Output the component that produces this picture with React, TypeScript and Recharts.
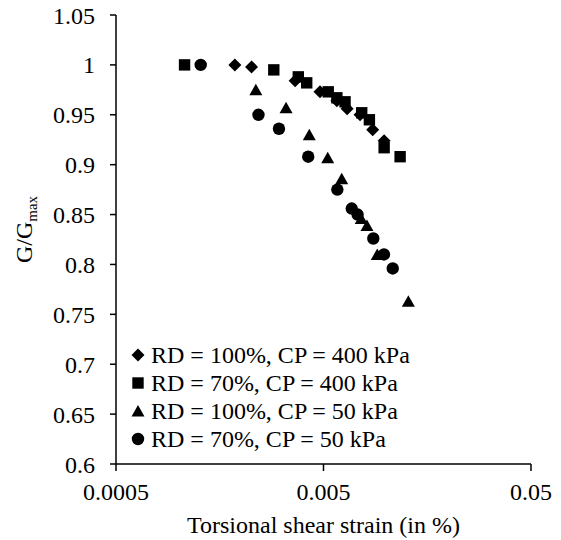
import { ScatterChart, Scatter, XAxis, YAxis, Legend, Label } from "recharts";

// strain (%) and G/Gmax
const rd100cp400X = [0.00187, 0.00225, 0.00365, 0.00481, 0.0058, 0.0065, 0.0075, 0.00863, 0.0098];
const rd100cp400Y = [1.0, 0.998, 0.984, 0.973, 0.964, 0.956, 0.95, 0.935, 0.924];

const rd70cp400X = [0.00107, 0.00288, 0.00378, 0.00415, 0.00527, 0.0058, 0.00635, 0.00764, 0.00832, 0.0098, 0.0117];
const rd70cp400Y = [1.0, 0.995, 0.988, 0.982, 0.973, 0.967, 0.963, 0.952, 0.945, 0.917, 0.908];

const rd100cp50X = [0.00236, 0.0033, 0.00427, 0.00524, 0.00612, 0.0076, 0.0081, 0.00908, 0.01282];
const rd100cp50Y = [0.975, 0.957, 0.93, 0.907, 0.886, 0.846, 0.839, 0.81, 0.763];

const rd70cp50X = [0.00128, 0.00243, 0.00305, 0.00422, 0.00583, 0.00684, 0.0073, 0.00869, 0.00978, 0.01078];
const rd70cp50Y = [1.0, 0.95, 0.936, 0.908, 0.875, 0.856, 0.85, 0.826, 0.81, 0.796];

const xTicks = [0.0005, 0.005, 0.05];
const yTicks = [0.6, 0.65, 0.7, 0.75, 0.8, 0.85, 0.9, 0.95, 1, 1.05];

const FONT = "Liberation Serif, DejaVu Serif, serif";
const FS = 24;

const toPoints = (xs: number[], ys: number[]) => xs.map((x, i) => ({ x, y: ys[i] }));

type Kind = "diamond" | "square" | "triangle" | "circle";

function markerPath(kind: Kind, cx: number, cy: number) {
  switch (kind) {
    case "diamond":
      return `M${cx},${cy - 6.5}L${cx + 6.5},${cy}L${cx},${cy + 6.5}L${cx - 6.5},${cy}Z`;
    case "square":
      return `M${cx - 5.7},${cy - 5.7}h11.4v11.4h-11.4Z`;
    case "triangle":
      return `M${cx},${cy - 6}L${cx + 6.5},${cy + 5.5}L${cx - 6.5},${cy + 5.5}Z`;
    default:
      return `M${cx - 6.2},${cy}a6.2,6.2 0 1,0 12.4,0a6.2,6.2 0 1,0 -12.4,0Z`;
  }
}

const makeShape = (kind: Kind) => (props: any) => (
  <path d={markerPath(kind, props.cx, props.cy)} fill="#000" />
);

const series: { name: string; kind: Kind; data: { x: number; y: number }[] }[] = [
  { name: "RD = 100%, CP = 400 kPa", kind: "diamond", data: toPoints(rd100cp400X, rd100cp400Y) },
  { name: "RD = 70%, CP = 400 kPa", kind: "square", data: toPoints(rd70cp400X, rd70cp400Y) },
  { name: "RD = 100%, CP = 50 kPa", kind: "triangle", data: toPoints(rd100cp50X, rd100cp50Y) },
  { name: "RD = 70%, CP = 50 kPa", kind: "circle", data: toPoints(rd70cp50X, rd70cp50Y) },
];

function LegendBox() {
  return (
    <div style={{ fontFamily: FONT, fontSize: FS, color: "#000" }}>
      {series.map((s) => (
        <div key={s.name} style={{ display: "flex", alignItems: "center", height: 28, lineHeight: "28px", whiteSpace: "nowrap" }}>
          <svg width={14} height={14} style={{ marginRight: 6 }}>
            <path d={markerPath(s.kind, 7, 7)} fill="#000" />
          </svg>
          <span>{s.name}</span>
        </div>
      ))}
    </div>
  );
}

function YTitle(props: any) {
  const vb = props.viewBox || {};
  const cx = 32;
  const cy = (vb.y ?? 15) + (vb.height ?? 449) / 2 - 10;
  return (
    <text
      x={cx}
      y={cy}
      transform={`rotate(-90, ${cx}, ${cy})`}
      textAnchor="middle"
      style={{ fontFamily: FONT, fontSize: FS, fill: "#000" }}
    >
      G/G
      <tspan style={{ fontSize: 15 }} dy={5}>max</tspan>
    </text>
  );
}

export default function App() {
  const tickStyle = { fill: "#000", fontSize: FS, fontFamily: FONT };
  return (
    <div style={{ width: 561, height: 540, background: "#fff", fontFamily: FONT }}>
      <style>{`body{margin:0}`}</style>
      <ScatterChart width={561} height={540} margin={{ top: 15, right: 30, bottom: 5, left: 56 }}>
        <XAxis
          type="number"
          dataKey="x"
          scale="log"
          domain={[0.0005, 0.05]}
          ticks={xTicks}
          tickFormatter={(v: number) => String(v)}
          allowDataOverflow
          height={71}
          stroke="#000"
          strokeWidth={1.5}
          tickSize={7}
          tickMargin={12}
          tick={tickStyle}
        >
          <Label
            value="Torsional shear strain (in %)"
            position="insideBottom"
            offset={2}
            style={{ fill: "#000", fontSize: FS, fontFamily: FONT }}
          />
        </XAxis>
        <YAxis
          type="number"
          dataKey="y"
          domain={[0.6, 1.05]}
          ticks={yTicks}
          tickFormatter={(v: number) => String(v)}
          allowDataOverflow
          width={60}
          stroke="#000"
          strokeWidth={1.5}
          tickSize={6}
          tickMargin={15}
          tick={tickStyle}
          label={<YTitle />}
        />
        <Legend
          layout="vertical"
          align="center"
          verticalAlign="middle"
          content={() => <LegendBox />}
          wrapperStyle={{ position: "absolute", left: 131, top: 341, width: "auto", height: "auto" }}
        />
        {series.map((s) => (
          <Scatter
            key={s.name}
            name={s.name}
            data={s.data}
            fill="#000"
            shape={makeShape(s.kind)}
            isAnimationActive={false}
          />
        ))}
      </ScatterChart>
    </div>
  );
}
